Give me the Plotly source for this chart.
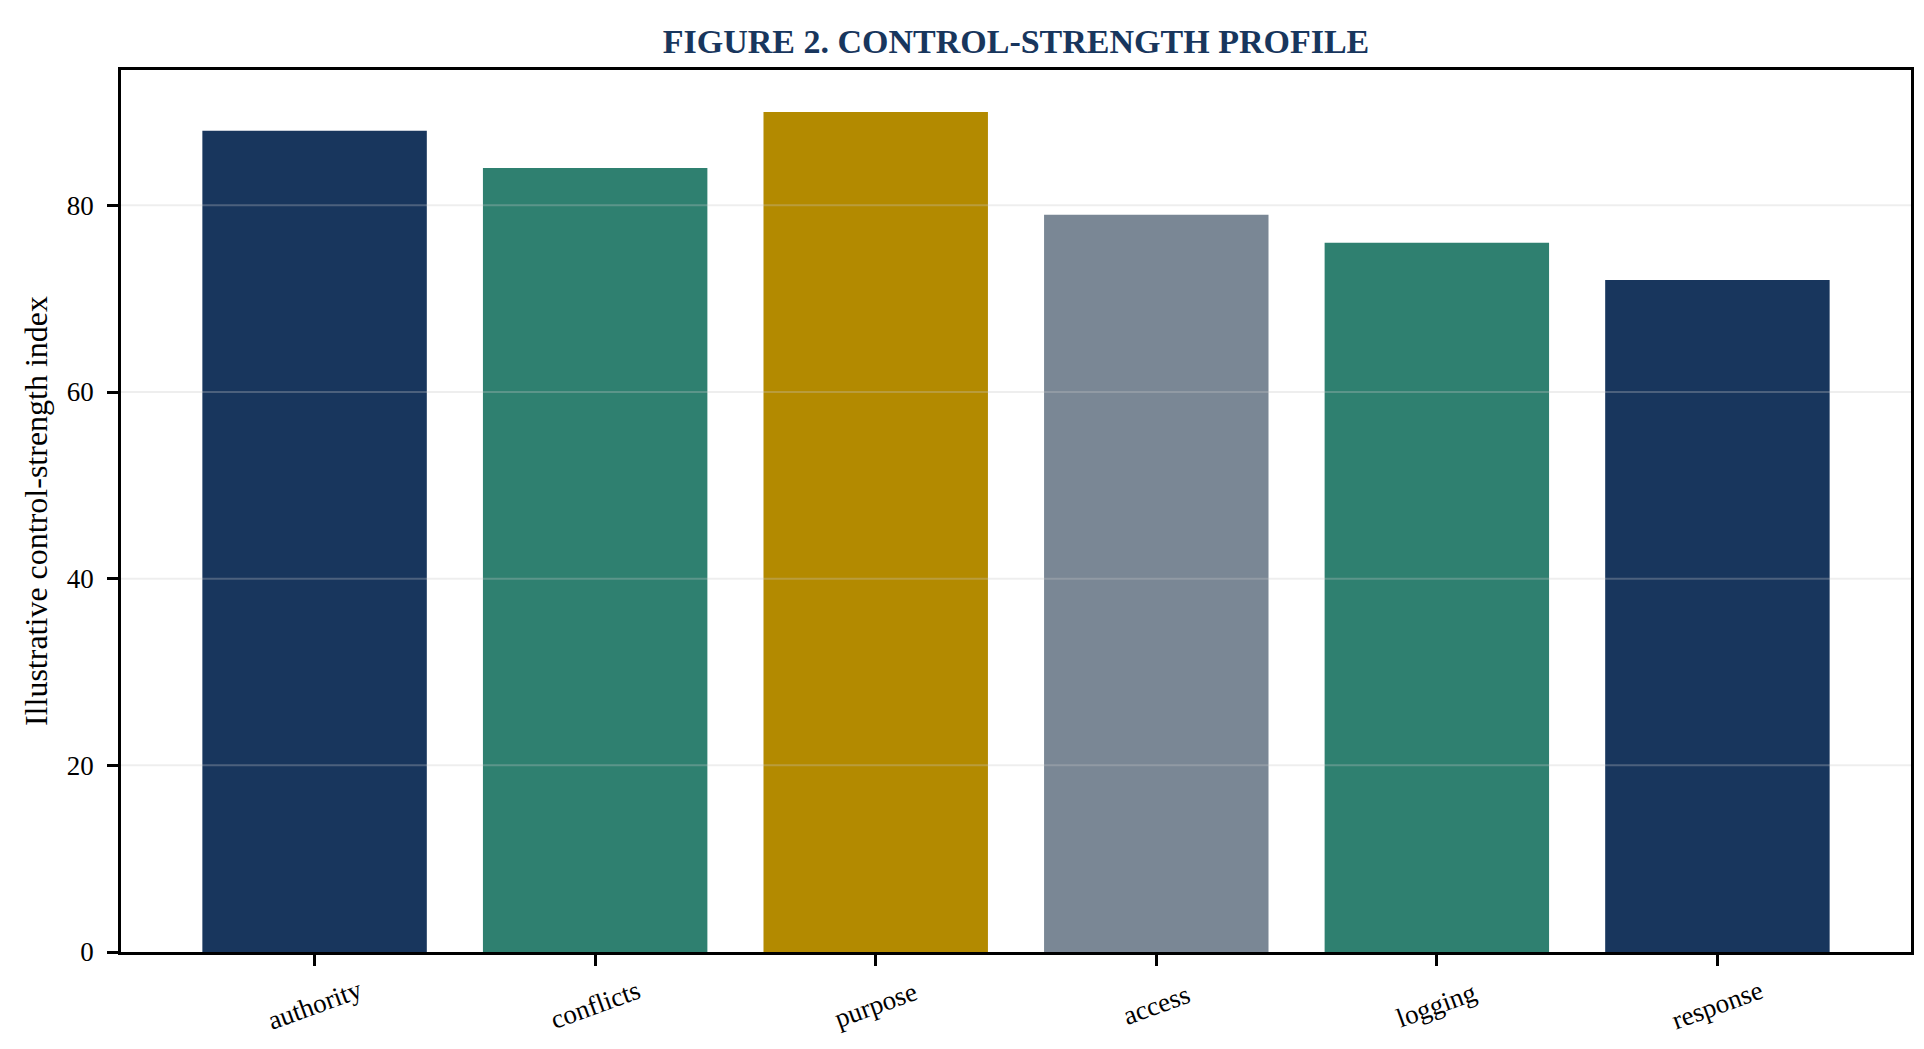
import plotly.graph_objects as go

categories = ["authority", "conflicts", "purpose", "access", "logging", "response"]
values = [88, 84, 90, 79, 76, 72]
colors = ["#18365d", "#2f8070", "#b38a00", "#7a8795", "#2f8070", "#18365d"]
y_ticks = [0, 20, 40, 60, 80]
title_text = "FIGURE 2. CONTROL-STRENGTH PROFILE"
y_title = "Illustrative control-strength index"

FONT = "Liberation Serif"

fig = go.Figure()
fig.add_trace(go.Bar(x=list(range(len(categories))), y=values, marker=dict(color=colors, line=dict(width=0)),
                     width=0.8, showlegend=False))

# gridlines drawn above bars (as in reference)
for t in y_ticks[1:]:
    fig.add_shape(type="line", xref="paper", yref="y", x0=0, x1=1, y0=t, y1=t,
                  line=dict(color="rgba(200,200,200,0.3)", width=2), layer="above")

# centered rotated category labels
for i, c in enumerate(categories):
    fig.add_annotation(x=i, y=0, xref="x", yref="y", text=c, showarrow=False, yanchor="middle",
                       textangle=-20, yshift=-53, font=dict(family=FONT, size=27, color="black"))

fig.update_layout(
    width=1924, height=1049,
    margin=dict(l=113, r=21, t=62, b=105),
    paper_bgcolor="white", plot_bgcolor="white",
    title=dict(text="<b>" + title_text + "</b>", x=(113 + 1903) / 2 / 1924, xanchor="center",
               y=1 - 33 / 1049, yanchor="middle",
               font=dict(family=FONT, size=34, color="#18365d")),
    bargap=0.2,
)
fig.update_xaxes(range=[-0.69, 5.69], tickvals=list(range(len(categories))), ticktext=[""] * len(categories),
                 ticks="outside", ticklen=11, tickwidth=2.5, tickcolor="black",
                 showline=True, linecolor="black", linewidth=2.5, mirror=True, showgrid=False, zeroline=False)
fig.update_yaxes(range=[0, 94.5], tickvals=y_ticks, ticks="outside", ticklen=11, tickwidth=2.5, tickcolor="black",
                 showline=True, linecolor="black", linewidth=2.5, mirror=True, showgrid=False, zeroline=False,
                 tickfont=dict(family=FONT, size=27, color="black"), ticklabelstandoff=8,
                 title=dict(text=y_title, font=dict(family=FONT, size=32, color="black"), standoff=10))

fig.write_html("out.html")
